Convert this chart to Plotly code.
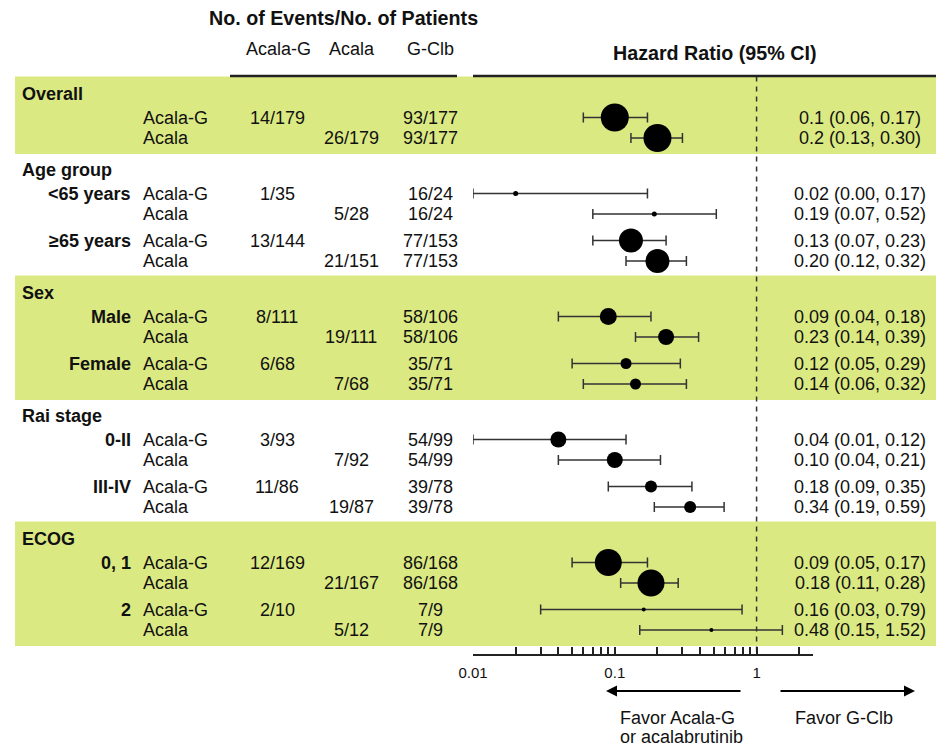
import math
import plotly.graph_objects as go

W, H = 936, 747
FONT = "Liberation Sans, Arial, Helvetica, sans-serif"

# ---- data -------------------------------------------------------------
sections = ["Overall", "Age group", "Sex", "Rai stage", "ECOG"]
subgroups = [[""], ["<65 years", "≥65 years"], ["Male", "Female"],
             ["0-II", "III-IV"], ["0, 1", "2"]]
arms = ["Acala-G", "Acala"]

events_acala_g = ["14/179", "", "1/35", "", "13/144", "", "8/111", "", "6/68", "",
                  "3/93", "", "11/86", "", "12/169", "", "2/10", ""]
events_acala = ["", "26/179", "", "5/28", "", "21/151", "", "19/111", "", "7/68",
                "", "7/92", "", "19/87", "", "21/167", "", "5/12"]
events_gclb = ["93/177", "93/177", "16/24", "16/24", "77/153", "77/153",
               "58/106", "58/106", "35/71", "35/71", "54/99", "54/99",
               "39/78", "39/78", "86/168", "86/168", "7/9", "7/9"]

hr = [0.1, 0.2, 0.02, 0.19, 0.13, 0.20, 0.09, 0.23, 0.12, 0.14,
      0.04, 0.10, 0.18, 0.34, 0.09, 0.18, 0.16, 0.48]
ci_low = [0.06, 0.13, 0.00, 0.07, 0.07, 0.12, 0.04, 0.14, 0.05, 0.06,
          0.01, 0.04, 0.09, 0.19, 0.05, 0.11, 0.03, 0.15]
ci_high = [0.17, 0.30, 0.17, 0.52, 0.23, 0.32, 0.18, 0.39, 0.29, 0.32,
           0.12, 0.21, 0.35, 0.59, 0.17, 0.28, 0.79, 1.52]
hr_decimals = [1, 1] + [2] * 16

tick_vals = [0.01, 0.02, 0.03, 0.04, 0.05, 0.06, 0.07, 0.08, 0.09,
             0.1, 0.2, 0.3, 0.4, 0.5, 0.6, 0.7, 0.8, 0.9, 1, 2]
tick_text = ["0.01"] + [""] * 8 + ["0.1"] + [""] * 8 + ["1", ""]

# ---- styling ----------------------------------------------------------
marker_size = [28, 28, 5, 5, 24, 24, 17, 16, 11, 11, 16, 16, 12, 12, 27, 27, 4, 4]
BAND = "#dbe982"
INK = "#111111"
LOG_MIN, LOG_MAX = -2, math.log10(2.5)
AXIS_Y = 655

# ---- row layout (pixel rows, top = 0) ---------------------------------
y = 94
section_y, row_y, bands = [], [], []
for k, sec in enumerate(sections):
    section_y.append(y)
    top = y - 17.5
    y += 23.5
    for j, _ in enumerate(subgroups[k]):
        if j > 0:
            y += 26.5
        row_y.append(y)
        y += 20.5
        row_y.append(y)
    bands.append((top, row_y[-1] + 16))
    y = row_y[-1] + 32

row_subgroup = [sg for grp in subgroups for sg in grp for _ in arms]
row_arm = arms * (len(row_y) // 2)


def px(x):
    return x / W


fig = go.Figure()

# shaded section bands
shapes = []
for k, (b0, b1) in enumerate(bands):
    if k % 2 == 0:
        shapes.append(dict(type="rect", xref="paper", yref="y", x0=px(15), x1=1,
                           y0=b0, y1=b1, fillcolor=BAND, line=dict(width=0),
                           layer="below"))
# header rules
shapes.append(dict(type="line", xref="paper", yref="y", x0=px(230), x1=px(457),
                   y0=76, y1=76, line=dict(color="#222", width=2.5)))
shapes.append(dict(type="line", xref="paper", yref="y", x0=px(473), x1=1,
                   y0=76, y1=76, line=dict(color="#222", width=2.5)))

# reference line at HR = 1
fig.add_trace(go.Scatter(x=[1, 1], y=[bands[0][0], AXIS_Y], mode="lines",
                         line=dict(color="#333", width=1.5, dash="5px,5px"),
                         hoverinfo="skip", showlegend=False))

# hazard ratios with 95% CI
floor = 10 ** LOG_MIN
fig.add_trace(go.Scatter(
    x=hr, y=row_y, mode="markers",
    marker=dict(size=marker_size, color="black", opacity=1, line=dict(width=0)),
    error_x=dict(type="data", symmetric=False,
                 array=[h2 - h for h, h2 in zip(hr, ci_high)],
                 arrayminus=[h - max(l, floor) for h, l in zip(hr, ci_low)],
                 color="#333", thickness=1.5, width=5),
    showlegend=False, hoverinfo="skip"))

ann = []


def text(x, yy, s, anchor="center", size=18, bold=False):
    ann.append(dict(xref="paper", yref="y", x=px(x), y=yy,
                    text=f"<b>{s}</b>" if bold else s, showarrow=False,
                    xanchor=anchor, yanchor="middle", borderpad=0,
                    font=dict(family=FONT, size=size, color=INK)))


text(343, 18, "No. of Events/No. of Patients", size=19.7, bold=True)
text(278, 49, "Acala-G")
text(352, 49, "Acala")
text(430, 49, "G-Clb")
text(714, 53, "Hazard Ratio (95% CI)", size=19.7, bold=True)

for k, sec in enumerate(sections):
    text(21, section_y[k], sec, anchor="left", bold=True)

for i, yy in enumerate(row_y):
    if i % 2 == 0 and row_subgroup[i]:
        text(132, yy, row_subgroup[i], anchor="right", bold=True)
    text(142, yy, row_arm[i], anchor="left")
    if events_acala_g[i]:
        text(277, yy, events_acala_g[i])
    if events_acala[i]:
        text(351, yy, events_acala[i])
    text(430, yy, events_gclb[i])
    d = hr_decimals[i]
    text(860, yy, f"{hr[i]:.{d}f} ({ci_low[i]:.2f}, {ci_high[i]:.2f})")

# direction arrows and captions
for head, tail in [(606, 742), (915, 779)]:
    ann.append(dict(xref="paper", yref="y", x=px(head), y=691, ax=tail - head, ay=0,
                    axref="pixel", ayref="pixel", text="", showarrow=True,
                    arrowhead=2, arrowsize=1.1, arrowwidth=2, arrowcolor="black",
                    standoff=0, startstandoff=0))
text(619, 717.5, "Favor Acala-G", anchor="left")
text(619, 736.5, "or acalabrutinib", anchor="left")
text(844, 717.5, "Favor G-Clb")

fig.update_layout(
    width=W, height=H, autosize=False,
    margin=dict(l=0, r=0, t=0, b=0, pad=0, autoexpand=False),
    paper_bgcolor="white", plot_bgcolor="rgba(0,0,0,0)",
    shapes=shapes, annotations=ann,
    font=dict(family=FONT, color=INK),
    xaxis=dict(type="log", range=[LOG_MIN, LOG_MAX],
               domain=[px(473), px(813)], anchor="free",
               position=(H - AXIS_Y) / H, automargin=False,
               showline=True, linecolor="#222", linewidth=2,
               ticks="inside", ticklen=7, tickwidth=1.5, tickcolor="#222",
               tickvals=tick_vals, ticktext=tick_text, ticklabelstandoff=4,
               tickfont=dict(family=FONT, size=15, color=INK),
               showgrid=False, zeroline=False, fixedrange=True),
    yaxis=dict(range=[H, 0], domain=[0, 1], visible=False, fixedrange=True,
               automargin=False),
)

fig.write_html("out.html")
